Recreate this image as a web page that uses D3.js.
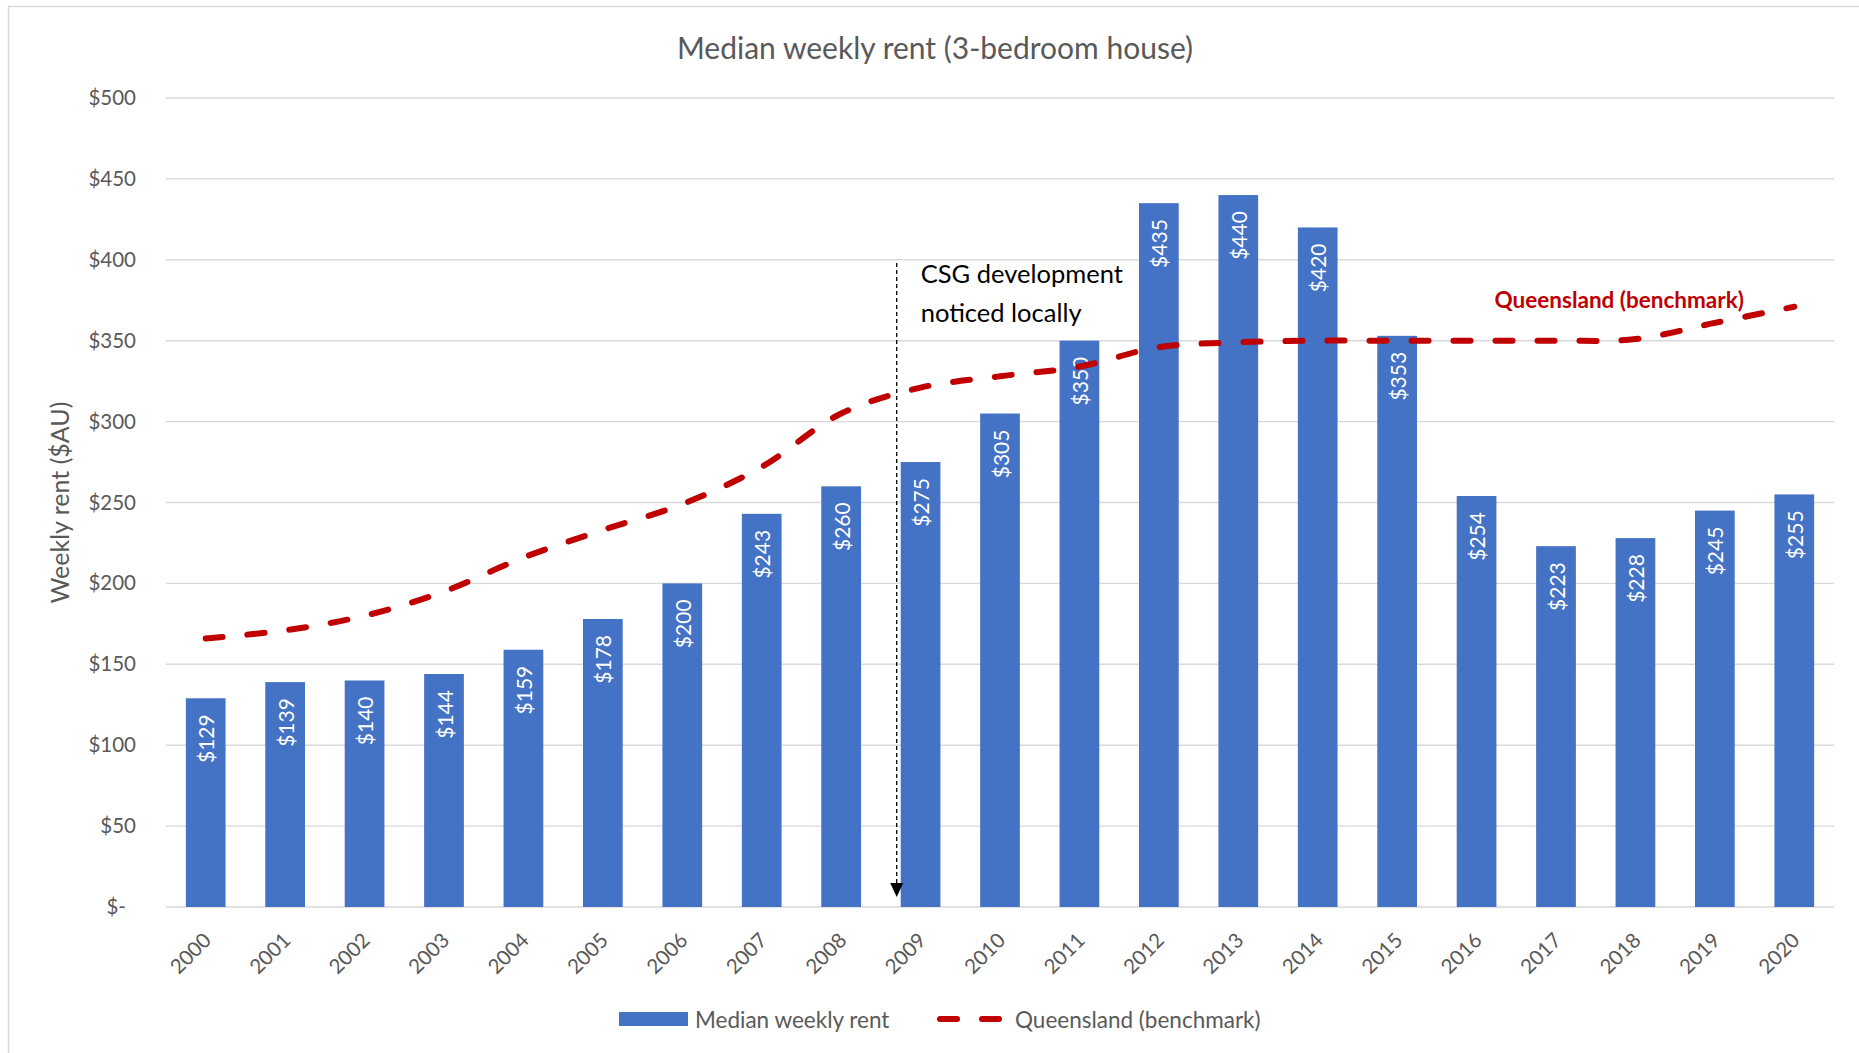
<!DOCTYPE html>
<html>
<head>
<meta charset="utf-8">
<script src="https://cdn.jsdelivr.net/npm/d3@7"></script>
<style>
  body { margin: 0; background: #fff; }
  svg { display: block; font-family: Lato, "Open Sans", sans-serif; }
</style>
</head>
<body>
<div id="chart"></div>
<script>
// Median weekly rent (3-bedroom house) - bars + smoothed Queensland benchmark line

const years = ['2000', '2001', '2002', '2003', '2004', '2005', '2006', '2007', '2008', '2009', '2010',
  '2011', '2012', '2013', '2014', '2015', '2016', '2017', '2018', '2019', '2020'];
const medianRent = [129, 139, 140, 144, 159, 178, 200, 243, 260, 275, 305,
  350, 435, 440, 420, 353, 254, 223, 228, 245, 255];
const queensland = [166, 171, 180, 195, 216, 233, 249, 272, 305, 321, 328,
  334, 346, 349, 350, 350, 350, 350, 351, 361, 371];
const yTicks = [0, 50, 100, 150, 200, 250, 300, 350, 400, 450, 500];

const chartTitle = 'Median weekly rent (3-bedroom house)';
const yTitle = 'Weekly rent ($AU)';
const seriesNames = ['Median weekly rent', 'Queensland (benchmark)'];
const annotationYear = '2009';
const annotationTop = 398;
const annotationLines = ['CSG development', 'noticed locally'];

const W = 1859, H = 1053;
const plot = { left: 166, right: 1834, top: 98, bottom: 907 };
const grey = '#595959';
const blue = '#4472C4';
const red = '#C00000';

const svg = d3.select('#chart').append('svg').attr('width', W).attr('height', H);

// outer chart border
svg.append('rect').attr('x', 8.5).attr('y', 6.5).attr('width', W + 20).attr('height', H + 20)
  .attr('fill', 'none').attr('stroke', '#D9D9D9').attr('stroke-width', 1.5);

const x = d3.scaleBand().domain(years).range([plot.left, plot.right]).paddingInner(0.5).paddingOuter(0.25);
const y = d3.scaleLinear().domain([0, 500]).range([plot.bottom, plot.top]);
const cx = d => x(d) + x.bandwidth() / 2;

// title
svg.append('text').attr('x', 935).attr('y', 47).attr('text-anchor', 'middle').attr('dominant-baseline', 'central')
  .attr('font-size', 30).attr('fill', grey).text(chartTitle);

// gridlines
svg.append('g').selectAll('line').data(yTicks).join('line')
  .attr('x1', plot.left).attr('x2', plot.right)
  .attr('y1', d => y(d)).attr('y2', d => y(d))
  .attr('stroke', '#D9D9D9').attr('stroke-width', 1.4);

// y axis labels
const yAxis = svg.append('g').attr('transform', `translate(${plot.left},0)`)
  .call(d3.axisLeft(y).tickValues(yTicks).tickSize(0).tickPadding(30)
    .tickFormat(d => d === 0 ? '$-' : '$' + d));
yAxis.select('.domain').remove();
yAxis.selectAll('text').attr('font-size', 20.5).attr('fill', grey).attr('font-family', 'Lato')
  .attr('dx', d => d === 0 ? -10 : 0);

// y title
svg.append('text').attr('transform', `translate(59,${(plot.top + plot.bottom) / 2}) rotate(-90)`)
  .attr('text-anchor', 'middle').attr('dominant-baseline', 'central')
  .attr('font-size', 25).attr('fill', grey).text(yTitle);

// x labels
svg.append('g').selectAll('text').data(years).join('text')
  .attr('transform', d => `translate(${cx(d) + 1},${plot.bottom + 29}) rotate(-45)`)
  .attr('text-anchor', 'end').attr('dominant-baseline', 'central')
  .attr('font-size', 20.5).attr('fill', grey).text(d => d);

// bars
svg.append('g').selectAll('rect').data(years).join('rect')
  .attr('x', d => x(d)).attr('width', x.bandwidth())
  .attr('y', (d, i) => y(medianRent[i])).attr('height', (d, i) => y(0) - y(medianRent[i]))
  .attr('fill', blue);

// bar value labels (inside end, rotated)
svg.append('g').selectAll('text').data(years).join('text')
  .attr('transform', (d, i) => `translate(${cx(d)},${y(medianRent[i]) + 16}) rotate(-90)`)
  .attr('text-anchor', 'end').attr('dominant-baseline', 'central')
  .attr('font-size', 21).attr('fill', '#fff').text((d, i) => '$' + medianRent[i]);

// Queensland line
const line = d3.line().x(d => cx(d[0])).y(d => y(d[1])).curve(d3.curveCatmullRom.alpha(0.5));
svg.append('path').datum(years.map((d, i) => [d, queensland[i]]))
  .attr('d', line).attr('fill', 'none').attr('stroke', red).attr('stroke-width', 6)
  .attr('stroke-linecap', 'round').attr('stroke-dasharray', '17 25');

svg.append('text').attr('x', cx('2016') + 18).attr('y', y(370.5))
  .attr('font-size', 22.5).attr('font-weight', 'bold').attr('fill', red).text(seriesNames[1]);

// annotation
const ax = x(annotationYear) - 4;
const tipY = y(0) - 10;
svg.append('line').attr('x1', ax).attr('x2', ax).attr('y1', y(annotationTop)).attr('y2', tipY - 12)
  .attr('stroke', '#000').attr('stroke-width', 1.3).attr('stroke-dasharray', '4 3');
svg.append('path').attr('d', `M${ax - 6.5},${tipY - 14} L${ax + 6.5},${tipY - 14} L${ax},${tipY} Z`)
  .attr('fill', '#000');
svg.append('g').selectAll('text').data(annotationLines).join('text')
  .attr('x', ax + 24).attr('y', (d, i) => 283 + i * 39)
  .attr('font-size', 25.5).attr('fill', '#000').text(d => d);

// legend
const lg = svg.append('g');
lg.append('rect').attr('x', 619).attr('y', 1012).attr('width', 69).attr('height', 14).attr('fill', blue);
lg.append('text').attr('x', 695).attr('y', 1019).attr('dominant-baseline', 'central')
  .attr('font-size', 22.5).attr('fill', grey).text(seriesNames[0]);
lg.append('line').attr('x1', 940).attr('x2', 1000).attr('y1', 1019).attr('y2', 1019)
  .attr('stroke', red).attr('stroke-width', 6).attr('stroke-linecap', 'round').attr('stroke-dasharray', '17 25');
lg.append('text').attr('x', 1015).attr('y', 1019).attr('dominant-baseline', 'central')
  .attr('font-size', 22.5).attr('fill', grey).text(seriesNames[1]);
</script>
</body>
</html>
